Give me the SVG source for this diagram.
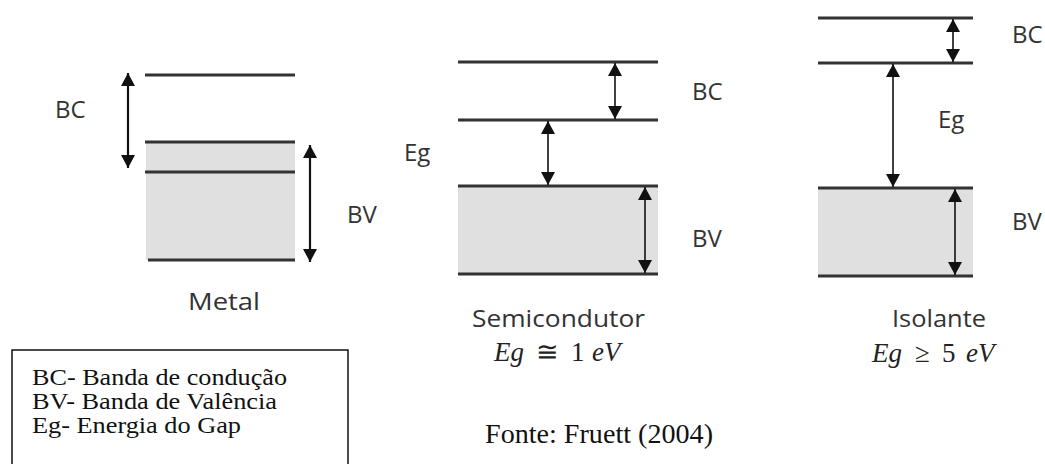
<svg xmlns="http://www.w3.org/2000/svg" width="1045" height="464" viewBox="0 0 1045 464">
<defs>
<marker id="ah" markerUnits="userSpaceOnUse" markerWidth="14" markerHeight="14" refX="13" refY="7" orient="auto-start-reverse" viewBox="0 0 14 14">
<path d="M0,0 L13,7 L0,14 Z" fill="#111"/>
</marker>
<style>
.lvl{stroke:#333;stroke-width:3;fill:none}
.band{fill:#e0e0e0}
.arr{stroke:#111;stroke-width:1.6;fill:none;marker-start:url(#ah);marker-end:url(#ah)}
.arrb{stroke:#111;stroke-width:2.2;fill:none;marker-start:url(#ah);marker-end:url(#ah)}
.lbl{font-family:"Open Sans","Liberation Sans",sans-serif;font-size:24px;fill:#333}
.cap{font-family:"Open Sans","Liberation Sans",sans-serif;font-size:23px;fill:#333}
.math{font-family:"Liberation Serif","DejaVu Serif",serif;font-size:27px;fill:#222}
.it{font-style:italic}
.tnr{font-family:"Liberation Serif","Times New Roman",serif;font-size:24px;fill:#111}
.src{font-family:"Liberation Serif","Times New Roman",serif;font-size:28px;fill:#111}
</style>
</defs>
<rect width="1045" height="464" fill="#fff"/>

<g id="metal">
<rect class="band" x="146" y="142" width="149" height="118"/>
<line class="lvl" x1="145" y1="75" x2="295" y2="75"/>
<line class="lvl" x1="145" y1="142" x2="295" y2="142"/>
<line class="lvl" x1="145" y1="172" x2="295" y2="172"/>
<line class="lvl" x1="148" y1="260" x2="295" y2="260"/>
<text class="lbl" x="55" y="118">BC</text>
<text class="lbl" x="347" y="223">BV</text>
<text class="cap" x="188" y="310" textLength="72" lengthAdjust="spacingAndGlyphs">Metal</text>
</g>

<g id="semicondutor">
<rect class="band" x="458" y="186" width="200" height="88"/>
<line class="lvl" x1="458" y1="62" x2="658" y2="62"/>
<line class="lvl" x1="458" y1="120" x2="658" y2="120"/>
<line class="lvl" x1="458" y1="186" x2="658" y2="186"/>
<line class="lvl" x1="458" y1="274" x2="658" y2="274"/>
<text class="lbl" x="692" y="100">BC</text>
<text class="lbl" x="404" y="161">Eg</text>
<text class="lbl" x="692" y="247">BV</text>
<text class="cap" x="472" y="327" textLength="173" lengthAdjust="spacingAndGlyphs">Semicondutor</text>
<text class="math" y="361"><tspan class="it" x="494">Eg</tspan><tspan x="536">≅</tspan><tspan x="571">1</tspan><tspan class="it" x="592">eV</tspan></text>
</g>

<g id="isolante">
<rect class="band" x="818" y="188" width="155" height="88"/>
<line class="lvl" x1="818" y1="18" x2="973" y2="18"/>
<line class="lvl" x1="818" y1="63" x2="973" y2="63"/>
<line class="lvl" x1="818" y1="188" x2="973" y2="188"/>
<line class="lvl" x1="818" y1="276" x2="973" y2="276"/>
<text class="lbl" x="1012" y="43">BC</text>
<text class="lbl" x="938" y="128">Eg</text>
<text class="lbl" x="1012" y="230">BV</text>
<text class="cap" x="892" y="327" textLength="94" lengthAdjust="spacingAndGlyphs">Isolante</text>
<text class="math" y="362"><tspan class="it" x="872">Eg</tspan><tspan x="915">≥</tspan><tspan x="942">5</tspan><tspan class="it" x="966">eV</tspan></text>
</g>

<g id="connectors">
<line class="arrb" x1="128" y1="73" x2="128" y2="168"/>
<line class="arrb" x1="310" y1="145" x2="310" y2="262"/>
<line class="arr" x1="615" y1="63" x2="615" y2="119"/>
<line class="arr" x1="548" y1="121" x2="548" y2="185"/>
<line class="arr" x1="645" y1="187" x2="645" y2="273"/>
<line class="arr" x1="953" y1="19" x2="953" y2="62"/>
<line class="arr" x1="893" y1="64" x2="893" y2="187"/>
<line class="arr" x1="955" y1="189" x2="955" y2="275"/>
</g>

<g id="legenda">
<rect x="12" y="350" width="336" height="125" fill="none" stroke="#111" stroke-width="1.5"/>
<text class="tnr" x="32" y="385" textLength="255" lengthAdjust="spacingAndGlyphs">BC- Banda de condução</text>
<text class="tnr" x="32" y="409" textLength="245" lengthAdjust="spacingAndGlyphs">BV- Banda de Valência</text>
<text class="tnr" x="32" y="433" textLength="209" lengthAdjust="spacingAndGlyphs">Eg- Energia do Gap</text>
</g>

<g id="fonte">
<text class="src" x="485" y="443" textLength="228" lengthAdjust="spacingAndGlyphs">Fonte: Fruett (2004)</text>
</g>
</svg>
